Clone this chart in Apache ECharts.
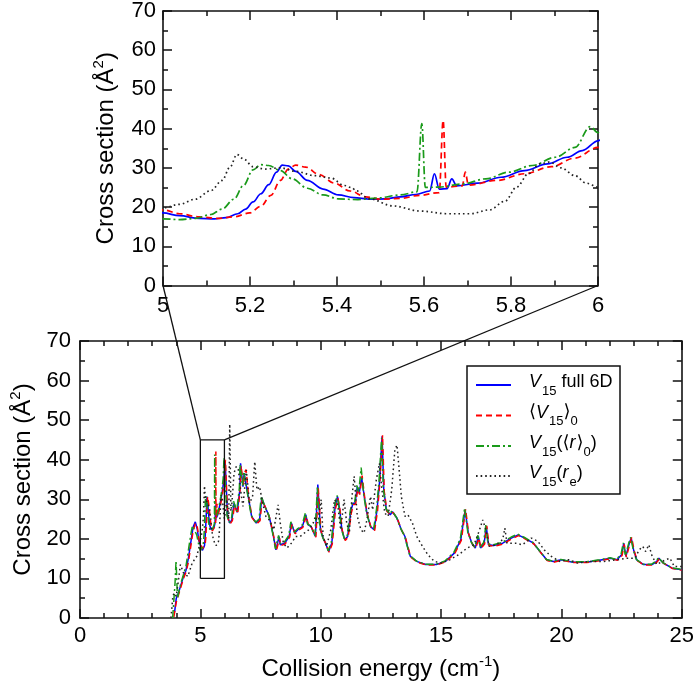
<!DOCTYPE html>
<html>
<head>
<meta charset="utf-8">
<script src="https://cdn.jsdelivr.net/npm/echarts@6/dist/echarts.min.js"></script>
<style>
html,body{margin:0;padding:0;background:#fff;}
#c{width:697px;height:686px;}
</style>
</head>
<body>
<div id="c"></div>
<script>
// ---------------- data: [collision energy (cm^-1), cross section (Å^2)] ----------------
const full6D = [[3.93,1.5],[4.0,5],[4.1,6.5],[4.2,8.5],[4.3,10.5],[4.4,12],[4.5,15],[4.6,19],[4.7,23],[4.79,24.3],[4.87,22.5],[4.94,19.5],
[5.0,18.5],[5.038,17.8],[5.083,17.1],[5.118,17.0],[5.145,17.3],[5.172,18.3],[5.19,19.5],[5.207,21.3],[5.225,23.4],[5.243,25.7],[5.261,28.9],[5.274,30.7],[5.288,30.5],[5.305,29.1],[5.332,26.8],[5.368,24.6],[5.403,23.1],[5.439,22.4],[5.475,22.0],[5.51,22.1],[5.546,22.6],[5.581,23.2],[5.613,24.1],[5.624,28.5],[5.635,24.6],[5.653,24.7],[5.664,27.2],[5.675,25.4],[5.724,26.1],[5.777,27.6],[5.831,29.3],[5.884,31.0],[5.929,32.7],[5.964,34.4],[6.0,36.9],
[6.03,39.5],[6.13,25.7],[6.22,24],[6.31,24.8],[6.4,29],[6.53,26.7],[6.64,32.4],[6.67,39.1],[6.77,33.2],[6.82,36.6],[6.88,37],[6.99,30.7],[7.13,25.7],[7.32,24],[7.46,24.8],[7.55,30.3],[7.68,28.2],[7.86,25.7],[8.01,21.5],[8.14,17.2],[8.19,16.8],[8.27,20.6],[8.32,18.5],[8.5,18.9],[8.69,20.6],[8.78,24],[8.92,21.5],[9.05,22.3],[9.24,23.1],[9.38,26.1],[9.47,23.6],[9.6,23.1],[9.78,20.6],[9.88,33.7],[9.99,22.3],[10.1,20.2],[10.2,18.9],[10.33,16.8],[10.46,18.9],[10.6,28.2],[10.7,30.7],[10.79,27.3],[10.88,22.3],[11.0,19.8],[11.12,20.6],[11.25,26.9],[11.34,29],[11.43,29],[11.52,33.2],[11.6,31.5],[11.7,35.5],[11.81,30.7],[11.92,26.5],[12.07,23.1],[12.22,22.3],[12.34,27.3],[12.44,34.1],[12.55,45.9],[12.62,32.4],[12.73,27.3],[12.89,26.1],[12.98,26.9],[13.17,25.2],[13.35,22.3],[13.5,20.6],[13.57,18.9],[13.72,15.6],[13.99,14.3],[14.36,13.5],[14.81,13.5],[15.18,14.3],[15.55,16.4],[15.82,19.8],[16.0,27.3],[16.13,21.5],[16.28,18.9],[16.42,17.7],[16.55,20.6],[16.64,17.7],[16.79,18.9],[16.88,23.1],[16.97,18.5],[17.19,18.3],[17.56,18.9],[17.92,20.2],[18.2,21],[18.47,20.2],[18.84,18.9],[19.11,16.8],[19.39,14.7],[19.66,14.3],[20.0,14.7],[20.48,14.1],[21.03,14.1],[21.58,14.6],[22.04,15.1],[22.31,14.7],[22.5,16],[22.59,18.9],[22.68,15.6],[22.82,18.9],[22.9,20.2],[23.0,17.2],[23.13,14.7],[23.41,13.5],[23.77,13.5],[23.96,14.3],[24.05,15.1],[24.23,13.9],[24.6,12.6],[25.0,12.2]];

const avgV15 = [[3.9,0.3],[4.0,4],[4.1,6],[4.2,8],[4.3,10],[4.4,11.5],[4.5,14],[4.6,18],[4.7,22],[4.8,24],[4.88,22.8],[4.95,19.5],
[5.0,19.3],[5.038,18.3],[5.083,17.5],[5.127,17.1],[5.163,17.5],[5.199,18.5],[5.225,20.2],[5.248,23.0],[5.27,26.8],[5.288,29.7],[5.305,30.7],[5.328,30.2],[5.359,28.3],[5.394,26.1],[5.43,24.1],[5.466,22.6],[5.501,22.0],[5.546,22.2],[5.59,23.0],[5.635,23.7],[5.644,42.1],[5.651,25.1],[5.688,25.4],[5.695,28.9],[5.702,25.6],[5.768,26.8],[5.831,28.5],[5.893,30.3],[5.947,32.5],[6.0,35.2],
[6.04,40],[6.14,25.2],[6.24,23.8],[6.33,24.6],[6.42,28.5],[6.55,26.3],[6.66,33],[6.69,38.5],[6.79,33.5],[6.84,36.8],[6.9,37.5],[7.01,30.5],[7.15,25.3],[7.34,23.8],[7.48,24.6],[7.57,30],[7.7,28],[7.88,25.3],[8.03,21.2],[8.16,17],[8.21,16.6],[8.29,20.2],[8.34,18.3],[8.52,18.7],[8.71,20.4],[8.8,23.6],[8.94,21.3],[9.07,22.1],[9.26,22.9],[9.4,25.8],[9.49,23.4],[9.62,22.9],[9.8,20.4],[9.9,32.8],[10.01,22],[10.12,20],[10.22,18.7],[10.35,16.6],[10.48,18.7],[10.62,27.8],[10.72,30.2],[10.81,27],[10.9,22],[11.02,19.6],[11.14,20.4],[11.27,26.5],[11.36,28.6],[11.45,28.8],[11.54,32.6],[11.62,31.2],[11.72,36],[11.83,30.3],[11.94,26.2],[12.09,22.9],[12.24,22.1],[12.36,27],[12.46,34.5],[12.57,46.2],[12.64,32],[12.75,27],[12.91,26],[13.0,26.7],[13.19,25],[13.37,22.1],[13.52,20.4],[13.59,18.7],[13.74,15.4],[14.01,14.1],[14.38,13.4],[14.83,13.4],[15.2,14.2],[15.57,16.3],[15.84,19.6],[16.02,27.5],[16.15,21.2],[16.3,18.7],[16.44,17.6],[16.57,20.2],[16.66,17.6],[16.81,18.7],[16.9,23.3],[16.99,18.3],[17.21,18.1],[17.58,18.7],[17.94,20],[18.22,20.8],[18.49,20],[18.86,18.7],[19.13,16.6],[19.41,14.5],[19.68,14.1],[20.02,14.6],[20.5,14],[21.05,14],[21.6,14.5],[22.06,15],[22.33,14.6],[22.52,15.8],[22.61,18.6],[22.7,15.4],[22.84,18.7],[22.92,20.4],[23.02,17],[23.15,14.5],[23.43,13.4],[23.79,13.4],[23.98,14.2],[24.07,15],[24.25,13.8],[24.62,12.5],[25.0,12.1]];

const rMeanV15 = [[3.85,0],[3.95,9],[3.99,14.5],[4.05,5],[4.1,6.5],[4.2,9],[4.3,11],[4.4,13],[4.5,17],[4.6,21],[4.67,23.3],[4.75,22.8],[4.85,21],[4.95,18],
[5.0,17.0],[5.038,16.8],[5.074,17.1],[5.11,18.1],[5.136,19.5],[5.163,22.0],[5.185,25.5],[5.207,29.5],[5.225,30.8],[5.243,30.6],[5.27,29.3],[5.297,27.2],[5.332,24.8],[5.368,23.1],[5.403,22.1],[5.448,21.9],[5.492,22.3],[5.546,23.1],[5.584,23.9],[5.595,41.3],[5.603,25.0],[5.635,25.1],[5.688,25.9],[5.742,27.2],[5.795,28.9],[5.849,30.6],[5.902,32.7],[5.947,35.2],[5.982,40.5],[6.0,39.0],
[6.03,34],[6.11,25.8],[6.2,24.2],[6.29,25],[6.38,29.5],[6.51,27],[6.62,32.8],[6.65,38.8],[6.75,33.4],[6.8,37],[6.86,37.3],[6.97,31],[7.11,26],[7.3,24.2],[7.44,25],[7.53,30.8],[7.66,28.5],[7.84,26],[7.99,21.8],[8.12,17.5],[8.17,17],[8.25,20.9],[8.3,18.8],[8.48,19.1],[8.67,20.8],[8.76,24.3],[8.9,21.7],[9.03,22.5],[9.22,23.3],[9.36,26.5],[9.45,23.8],[9.58,23.3],[9.76,20.8],[9.86,33],[9.97,22.5],[10.08,20.4],[10.18,19.1],[10.31,17],[10.44,19.1],[10.58,28.5],[10.68,31],[10.77,27.6],[10.86,22.5],[10.98,20],[11.1,20.8],[11.23,27.2],[11.32,29.3],[11.41,29.2],[11.5,33.5],[11.58,31.8],[11.68,38],[11.79,31],[11.9,26.8],[12.05,23.3],[12.2,22.5],[12.32,27.6],[12.42,34.5],[12.53,45.5],[12.6,32.8],[12.71,27.6],[12.87,26.3],[12.96,27.1],[13.15,25.4],[13.33,22.5],[13.48,20.8],[13.55,19.1],[13.7,15.8],[13.97,14.4],[14.34,13.6],[14.79,13.6],[15.16,14.4],[15.53,16.6],[15.8,20],[15.98,27.8],[16.11,21.7],[16.26,19.1],[16.4,17.9],[16.53,20.9],[16.62,17.9],[16.77,19.1],[16.86,23.5],[16.95,18.7],[17.17,18.5],[17.54,19.1],[17.9,20.4],[18.18,21.2],[18.45,20.4],[18.82,19.1],[19.09,17],[19.37,14.8],[19.64,14.4],[19.98,14.8],[20.46,14.2],[21.01,14.2],[21.56,14.7],[22.02,15.2],[22.29,14.8],[22.48,16.2],[22.57,19],[22.66,15.7],[22.8,19],[22.88,20.4],[22.98,17.4],[23.11,14.8],[23.39,13.6],[23.75,13.6],[23.94,14.4],[24.03,15.3],[24.21,14],[24.58,12.7],[25.0,12.3]];

const reV15 = [[3.78,0],[3.85,5],[3.9,6.3],[4.0,5.5],[4.1,10],[4.17,13.5],[4.3,11.4],[4.48,10.5],[4.66,13.9],[4.85,15.6],[4.95,18],
[5.0,19.8],[5.038,20.7],[5.074,22.0],[5.11,24.2],[5.136,26.8],[5.154,30.2],[5.17,33.4],[5.185,32.3],[5.207,30.3],[5.234,29.7],[5.27,30.0],[5.305,29.1],[5.35,28.0],[5.386,27.4],[5.417,25.5],[5.435,24.9],[5.443,24.2],[5.475,22.1],[5.528,20.3],[5.59,19.0],[5.653,18.3],[5.706,18.3],[5.751,19.3],[5.786,21.5],[5.813,25.1],[5.84,28.5],[5.866,31.0],[5.889,31.5],[5.915,30.0],[5.947,28.0],[5.973,26.1],[6.0,25.1],
[6.1,30],[6.18,25],[6.22,49],[6.27,27],[6.31,29],[6.4,36.6],[6.49,38.3],[6.58,37.4],[6.67,32.4],[6.77,28.2],[6.91,37.4],[7.04,29],[7.17,30.7],[7.26,39.5],[7.35,32.4],[7.46,33.2],[7.59,29],[7.72,25.7],[7.86,24.8],[8.05,22.3],[8.23,28.6],[8.32,24],[8.45,18.9],[8.6,17.7],[8.78,18.9],[8.96,20.6],[9.14,20.6],[9.33,21.5],[9.51,22.3],[9.69,24],[9.78,25.7],[9.88,24],[10.02,29.9],[10.1,20.6],[10.24,18.1],[10.42,22.3],[10.57,29.9],[10.7,29],[10.83,22.3],[10.97,29.9],[11.08,24],[11.19,21.5],[11.3,30.7],[11.39,35.8],[11.52,25.7],[11.67,22.3],[11.8,21.5],[11.92,24.8],[12.07,30.7],[12.16,27.3],[12.31,34.9],[12.44,39.1],[12.53,33.2],[12.66,26.5],[12.8,25.7],[12.95,32.4],[13.08,42.5],[13.17,43.7],[13.26,37.4],[13.35,30.7],[13.5,25.7],[13.62,26.1],[13.81,24],[13.99,20.6],[14.23,18.1],[14.45,16],[14.72,14.3],[15.0,13.9],[15.36,14.7],[15.73,16],[16.09,17.7],[16.37,18.5],[16.6,22.3],[16.73,24.8],[16.86,22.3],[17.0,18.1],[17.28,18.5],[17.56,19.8],[17.65,22.7],[17.74,18.9],[18.1,18.9],[18.38,18.5],[18.75,20.2],[19.02,19.4],[19.29,17.2],[19.57,15.6],[19.93,14.3],[20.3,14.7],[20.67,13.9],[21.22,14.3],[21.76,14.3],[22.31,14.7],[22.68,15.1],[23.05,15.1],[23.23,17.2],[23.38,18.1],[23.5,16.8],[23.63,18.5],[23.77,15.6],[23.96,13.5],[24.32,14.7],[24.51,15.1],[24.69,13],[25.0,13]];

// zoom window shown in the inset: energy 5-6, cross section 10-45
const zoomBox = [[5, 10], [6, 10], [6, 45], [5, 45], [5, 10]];

const seriesKeys = ['full', 'avg', 'rmean', 'req'];
const seriesData = {full: full6D, avg: avgV15, rmean: rMeanV15, req: reV15};
// legend labels as pieces: [text, kind]  (n = normal, it = italic, sub = subscript)
const legendPieces = {
  full:  [['V','it'],['15','sub'],[' full 6D','n']],
  avg:   [['\u27E8','n'],['V','it'],['15','sub'],['\u27E9','n'],['0','sub']],
  rmean: [['V','it'],['15','sub'],['(\u27E8','n'],['r','it'],['\u27E9','n'],['0','sub'],[')','n']],
  req:   [['V','it'],['15','sub'],['(','n'],['r','it'],['e','sub'],[')','n']]
};

// ---------------- styles ----------------
const FAMILY = '"Liberation Sans", Arial, "DejaVu Sans", sans-serif';
const styles = {
  full:  {color: '#0000ff', dash: 'solid'},
  avg:   {color: '#ff0000', dash: [6, 4]},
  rmean: {color: '#1a9a1a', dash: [8, 3, 2, 3]},
  req:   {color: '#222222', dash: [1.6, 3]}
};

const chart = echarts.init(document.getElementById('c'), null, {renderer: 'canvas'});

const lineCol = '#111';
function xAx(grid, pos, min, max, interval, minorSplit, showLabel, margin) {
  return {
    type: 'value', gridIndex: grid, position: pos, min: min, max: max, interval: interval,
    axisLine: {show: true, onZero: false, lineStyle: {color: lineCol, width: 1.6}},
    axisTick: {show: true, inside: true, length: 9, lineStyle: {color: lineCol, width: 1.5}},
    minorTick: {show: true, splitNumber: minorSplit, length: 5, lineStyle: {color: lineCol, width: 1.5}},
    splitLine: {show: false},
    axisLabel: {show: showLabel, fontSize: 22, color: '#000', fontFamily: FAMILY, margin: margin,
      showMinLabel: true, showMaxLabel: true,
      formatter: v => String(+v.toFixed(1))}
  };
}
function yAx(grid, pos, showLabel, margin) {
  return {
    type: 'value', gridIndex: grid, position: pos, min: 0, max: 70, interval: 10,
    axisLine: {show: true, onZero: false, lineStyle: {color: lineCol, width: 1.6}},
    axisTick: {show: true, inside: true, length: 9, lineStyle: {color: lineCol, width: 1.5}},
    minorTick: {show: true, splitNumber: 2, length: 5, lineStyle: {color: lineCol, width: 1.5}},
    splitLine: {show: false},
    axisLabel: {show: showLabel, fontSize: 22, color: '#000', fontFamily: FAMILY, margin: margin,
      showMinLabel: true, showMaxLabel: true}
  };
}

const titleRich = {
  a: {fontSize: 24, fontFamily: FAMILY, color: '#000'},
  sup: {fontSize: 15, fontFamily: FAMILY, color: '#000', padding: [0, 0, 15, 0]}
};

const xAxes = [
  xAx(0, 'bottom', 5, 6, 0.2, 2, true, 9),
  xAx(0, 'top', 5, 6, 0.2, 2, false, 9),
  xAx(1, 'bottom', 0, 25, 5, 5, true, 7),
  xAx(1, 'top', 0, 25, 5, 5, false, 7)
];
Object.assign(xAxes[2], {
  name: '{a|Collision energy (cm}{sup|-1}{a|)}',
  nameLocation: 'middle', nameGap: 36,
  nameTextStyle: {fontFamily: FAMILY, color: '#000', rich: titleRich}
});

const yAxes = [
  yAx(0, 'left', true, 7), yAx(0, 'right', false, 7),
  yAx(1, 'left', true, 9), yAx(1, 'right', false, 9)
];
[0, 2].forEach(i => Object.assign(yAxes[i], {
  name: '{a|Cross section (\u00C5}{sup|2}{a|)}',
  nameLocation: 'middle', nameRotate: 90, nameGap: 42,
  nameTextStyle: {fontFamily: FAMILY, color: '#000', rich: titleRich}
}));

const series = [];
seriesKeys.forEach(k => {
  const st = styles[k];
  series.push({
    name: k, type: 'line', xAxisIndex: 0, yAxisIndex: 0, data: seriesData[k],
    showSymbol: false, symbol: 'none', clip: true, smooth: 0.35, smoothMonotone: 'x',
    lineStyle: {color: st.color, type: st.dash, width: 1.7}
  });
  series.push({
    name: k, type: 'line', xAxisIndex: 2, yAxisIndex: 2, data: seriesData[k],
    showSymbol: false, symbol: 'none', clip: true,
    lineStyle: {color: st.color, type: st.dash, width: 1.5}
  });
});
series.push({
  name: 'zoomBox', type: 'line', xAxisIndex: 2, yAxisIndex: 2, data: zoomBox,
  showSymbol: false, symbol: 'none', lineStyle: {color: '#111', width: 1.3}, z: 5, silent: true
});

chart.setOption({
  animation: false,
  backgroundColor: '#fff',
  grid: [
    {left: 163, top: 9.5, width: 435, height: 276},
    {left: 76, top: 341, width: 607, height: 277}
  ],
  xAxis: xAxes,
  yAxis: yAxes,
  series: series
});

// connector lines from the zoom box corners to the inset's bottom corners
const a1 = chart.convertToPixel({xAxisIndex: 2, yAxisIndex: 2}, zoomBox[3]);
const a2 = chart.convertToPixel({xAxisIndex: 2, yAxisIndex: 2}, zoomBox[2]);
const b1 = chart.convertToPixel({xAxisIndex: 0, yAxisIndex: 0}, [5, 0]);
const b2 = chart.convertToPixel({xAxisIndex: 0, yAxisIndex: 0}, [6, 0]);

// legend box (drawn as graphics so sample lines match the series styles)
const legX = 467, legY = 366, legW = 153, legH = 128;
const rowY = [382, 412.5, 443, 473];
const MAIN_FS = 18, SUB_FS = 13;
const measureCtx = document.createElement('canvas').getContext('2d');
function fontStr(size, italic) { return (italic ? 'italic ' : 'normal ') + 'normal ' + size + 'px ' + FAMILY; }
function textW(txt, size, italic) {
  measureCtx.font = fontStr(size, italic);
  return measureCtx.measureText(txt).width;
}
const graphics = [
  {type: 'line', shape: {x1: a1[0], y1: a1[1], x2: b1[0], y2: b1[1]}, style: {stroke: '#111', lineWidth: 1.3}, z: 100, silent: true},
  {type: 'line', shape: {x1: a2[0], y1: a2[1], x2: b2[0], y2: b2[1]}, style: {stroke: '#111', lineWidth: 1.3}, z: 100, silent: true},
  {type: 'rect', shape: {x: legX, y: legY, width: legW, height: legH},
   style: {fill: '#fff', stroke: '#111', lineWidth: 1.5}, z: 90, silent: true}
];
seriesKeys.forEach((k, i) => {
  const st = styles[k];
  graphics.push({type: 'line', shape: {x1: legX + 9, y1: rowY[i] + 3, x2: legX + 44, y2: rowY[i] + 3},
    style: {stroke: st.color, lineWidth: 1.8, lineDash: st.dash === 'solid' ? null : st.dash}, z: 95, silent: true});
  let cx = legX + 62;
  legendPieces[k].forEach(([txt, kind]) => {
    const isSub = kind === 'sub', isIt = kind === 'it';
    const fs = isSub ? SUB_FS : MAIN_FS;
    graphics.push({type: 'text', x: cx, y: rowY[i] + (isSub ? 9 : 0), z: 95, silent: true,
      style: {text: txt, font: fontStr(fs, isIt), fill: '#000', align: 'left', verticalAlign: 'middle'}});
    cx += textW(txt, fs, isIt) + (isIt ? 1 : 0);
  });
});
chart.setOption({graphic: graphics});
</script>
</body>
</html>
